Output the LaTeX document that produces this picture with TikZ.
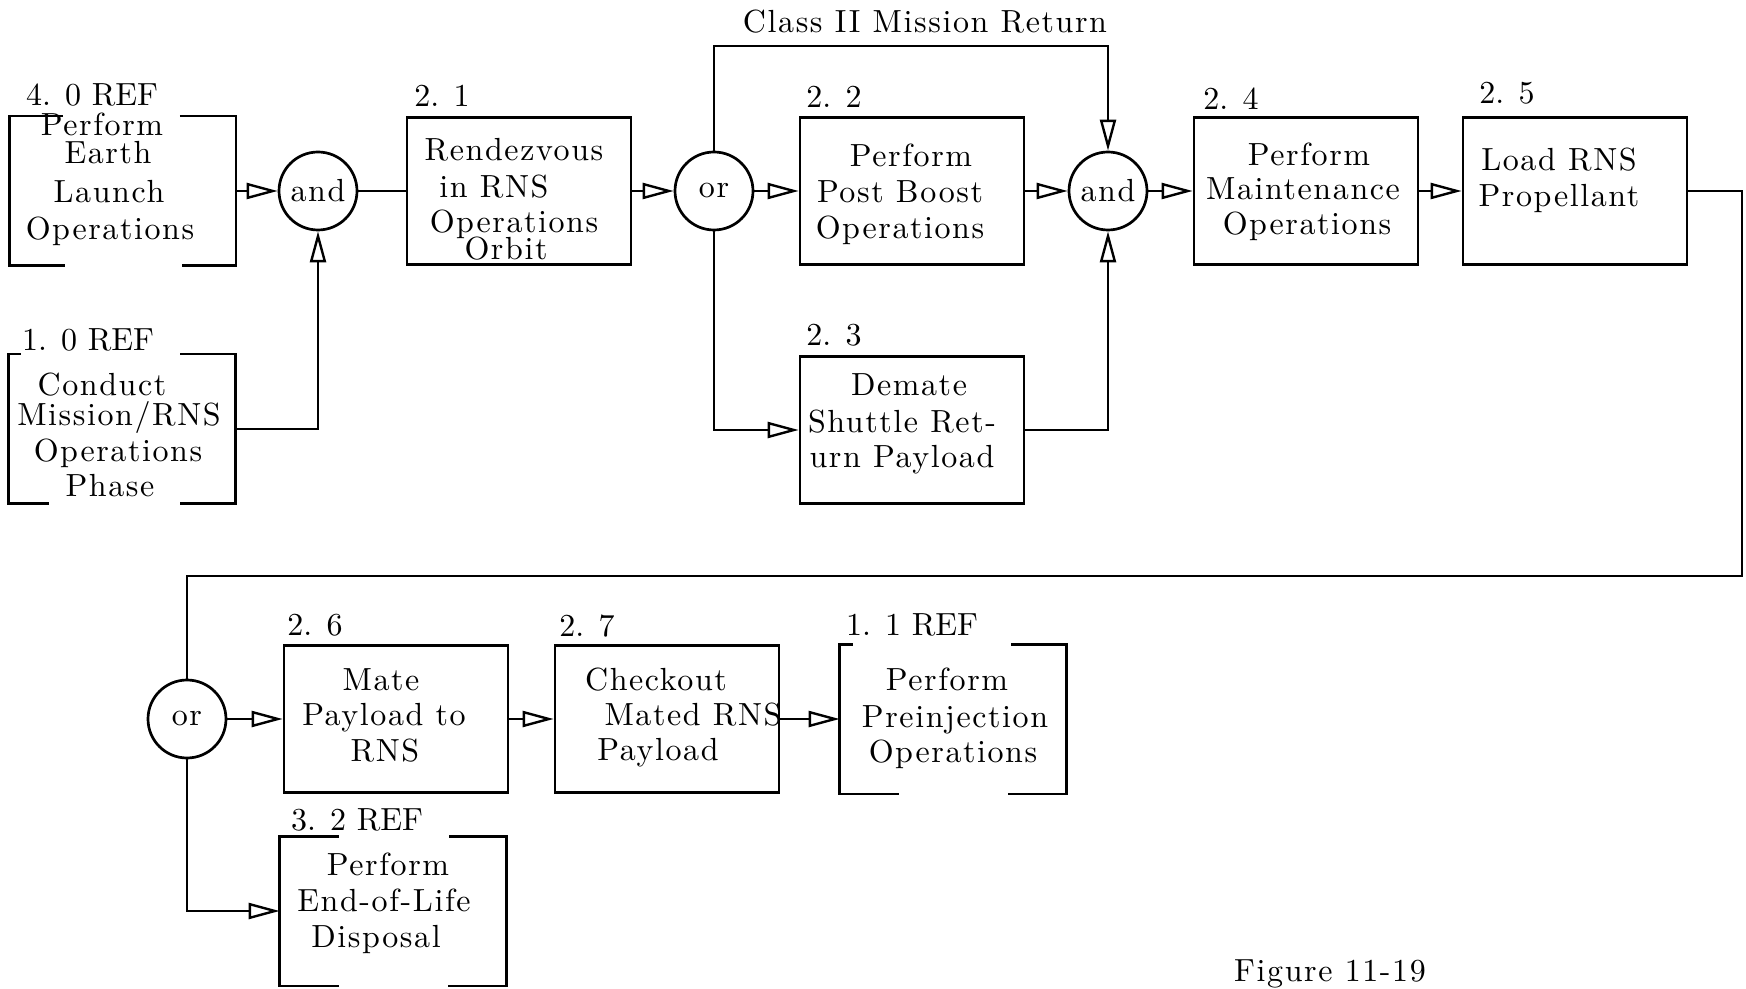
\documentclass[tikz,border=0pt]{standalone}
\usepackage{fontspec}
\setmainfont{lmroman10-regular.otf}[LetterSpace=5]
\newfontfamily\labfont{lmroman10-regular.otf}
\usetikzlibrary{arrows.meta}
\newcommand\myfs{\fontsize{16}{18}\selectfont}
\newcommand\mylab{\labfont\fontsize{16}{18}\selectfont}
\newcommand\refbracket[5]{%
  \draw ([xshift=#2*0.5pt]#1.north west) -- (#1.north west) -- (#1.south west) -- ([xshift=#4*0.5pt]#1.south west);
  \draw ([xshift=-#3*0.5pt]#1.north east) -- (#1.north east) -- (#1.south east) -- ([xshift=-#5*0.5pt]#1.south east);}
\tikzset{
  box/.style={draw, minimum width=112pt, minimum height=73.5pt, inner sep=0pt},
  refbox/.style={minimum width=112pt, minimum height=73.5pt, inner sep=0pt},
  gate/.style={draw, circle, minimum size=39pt, inner sep=0pt, font=\myfs},
  txt/.style={inner sep=0pt, anchor=base, font=\myfs},
  lab/.style={inner sep=0pt, anchor=base, font=\mylab},
  arr/.style={-{Triangle[open, length=15.5pt, width=8pt, line width=1.2pt]}},
}
\begin{document}
\begin{tikzpicture}[x=0.5pt, y=-0.5pt, line width=1.35pt]
\useasboundingbox (0,0) rectangle (1746,989);
% nodes
\node[refbox] (b40) at (122.5,191) {};
\node[refbox] (b10) at (122,429) {};
\node[gate] (and1) at (318,191) {and};
\node[box] (b21) at (519,191) {};
\node[gate] (or1) at (714,191) {or};
\node[box] (b22) at (912,191) {};
\node[box] (b23) at (912,430) {};
\node[gate] (and2) at (1108,191) {and};
\node[box] (b24) at (1306,191) {};
\node[box] (b25) at (1575,191) {};
\node[gate] (or3) at (187,719) {or};
\node[box] (b26) at (396,719) {};
\node[box] (b27) at (667,719) {};
\node[refbox] (b11) at (953,719) {};
\node[refbox] (b32) at (393,911) {};
\refbracket{b40}{54}{56}{56}{54}
\refbracket{b10}{12}{55}{40}{55}
\refbracket{b11}{13}{55}{59}{58}
\refbracket{b32}{59}{57}{59}{58}
% labels
\node[lab] (l40) at (92,106) {4. 0 REF};
\node[lab] (l10) at (88,351) {1. 0 REF};
\node[lab] (l21) at (442,107) {2. 1};
\node[lab] (l22) at (834,108) {2. 2};
\node[lab] (l23) at (834,346) {2. 3};
\node[lab] (l24) at (1231,110) {2. 4};
\node[lab] (l25) at (1507,104) {2. 5};
\node[lab] (l26) at (315,635) {2. 6};
\node[lab] (l27) at (587,636) {2. 7};
\node[lab] (l11) at (912,635) {1. 1 REF};
\node[lab] (l32) at (357,830) {3. 2 REF};
\node[txt] (cls) at (925,33) {Class II Mission Return};
\node[txt] (fig) at (1330,981) {Figure 11-19};
% box texts
\node[txt] (t40a) at (102,136) {Perform};
\node[txt] (t40b) at (108,164) {Earth};
\node[txt] (t40c) at (109,203) {Launch};
\node[txt] (t40d) at (110,240) {Operations};
\node[txt] (t10a) at (102,396) {Conduct};
\node[txt] (t10b) at (119,426) {Mission/RNS};
\node[txt] (t10c) at (118,462) {Operations};
\node[txt] (t10d) at (110,497) {Phase};
\node[txt] (t21a) at (514,161) {Rendezvous};
\node[txt] (t21b) at (494,198) {in RNS};
\node[txt] (t21c) at (514,233) {Operations};
\node[txt] (t21d) at (506,260) {Orbit};
\node[txt] (t22a) at (911,167) {Perform};
\node[txt] (t22b) at (900,203) {Post Boost};
\node[txt] (t22c) at (900,239) {Operations};
\node[txt] (t23a) at (909,396) {Demate};
\node[txt] (t23b) at (902,433) {Shuttle Ret-};
\node[txt] (t23c) at (902,468) {urn Payload};
\node[txt] (t24a) at (1309,166) {Perform};
\node[txt] (t24b) at (1303,200) {Maintenance};
\node[txt] (t24c) at (1307,235) {Operations};
\node[txt] (t25a) at (1559,171) {Load RNS};
\node[txt] (t25b) at (1559,207) {Propellant};
\node[txt] (t26a) at (381,690) {Mate};
\node[txt] (t26b) at (384,725) {Payload to};
\node[txt] (t26c) at (385,761) {RNS};
\node[txt] (t27a) at (656,690) {Checkout};
\node[txt] (t27b) at (693,725) {Mated RNS};
\node[txt] (t27c) at (658,760) {Payload};
\node[txt] (t11a) at (947,690) {Perform};
\node[txt] (t11b) at (955,727) {Preinjection};
\node[txt] (t11c) at (953,762) {Operations};
\node[txt] (t32a) at (388,875) {Perform};
\node[txt] (t32b) at (384,911) {End-of-Life};
\node[txt] (t32c) at (376,947) {Disposal};
% connectors
\coordinate (ctop) at (0,46);
\coordinate (cr) at (1742,576);
\draw[arr] (b40.east) -- (and1.west);
\draw[arr] (b10.east) -| (and1.south);
\draw (and1.east) -- (b21.west);
\draw[arr] (b21.east) -- (or1.west);
\draw[arr] (or1.east) -- (b22.west);
\draw[arr] (or1.north) -- (or1.north |- ctop) -| (and2.north);
\draw[arr] (or1.south) |- (b23.west);
\draw[arr] (b22.east) -- (and2.west);
\draw[arr] (b23.east) -| (and2.south);
\draw[arr] (and2.east) -- (b24.west);
\draw[arr] (b24.east) -- (b25.west);
\draw (b25.east) -| (cr) -| (or3.north);
\draw[arr] (or3.east) -- (b26.west);
\draw[arr] (b26.east) -- (b27.west);
\draw[arr] (b27.east) -- (b11.west);
\draw[arr] (or3.south) |- (b32.west);
\end{tikzpicture}
\end{document}
